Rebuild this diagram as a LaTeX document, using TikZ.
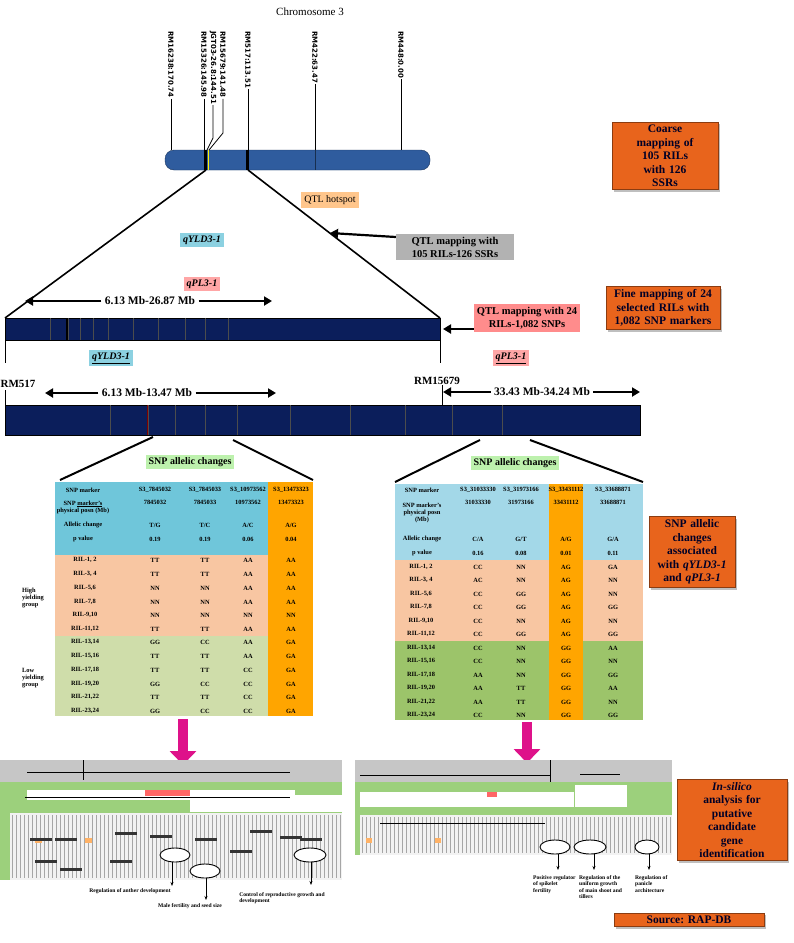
\documentclass[tikz,border=0pt]{standalone}
\usepackage{fontspec}
\setmainfont{Liberation Serif}
\setsansfont{DejaVu Sans}
\usetikzlibrary{shadows,arrows.meta}
\definecolor{obox}{HTML}{E8641C}
\definecolor{navy}{HTML}{0B1E5B}
\definecolor{chrom}{HTML}{2F5C9E}
\definecolor{tblue}{HTML}{6FC6DA}
\definecolor{tblueR}{HTML}{A3D8E8}
\definecolor{torange}{HTML}{FFA500}
\definecolor{tpeach}{HTML}{F8C6A2}
\definecolor{tgreen}{HTML}{CFDDAA}
\definecolor{tgreenR}{HTML}{9CC46A}
\definecolor{sgreen}{HTML}{9CD07C}
\begin{document}
\begin{tikzpicture}[x=1pt,y=-1pt,
  ob/.style={fill=obox,draw=obox!60!black,line width=1pt,drop shadow={opacity=0.5},font=\bfseries\fontsize{11.5}{13.5}\selectfont,text=black!85!blue,align=center,inner sep=3pt},
  lab/.style={font=\fontsize{10}{12}\selectfont,inner sep=3pt,align=center},
  big/.style={font=\bfseries\fontsize{11.5}{13}\selectfont},
  arr/.style={-{Triangle[length=8pt,width=9pt]},line width=2.2pt},
  mk/.style={rotate=-90,anchor=west,font=\sffamily\bfseries\fontsize{7}{8}\selectfont,inner sep=1pt},
  tc/.style={font=\bfseries\fontsize{6.4}{7}\selectfont,inner sep=0pt,align=center},
  zl/.style={line width=2pt},
  note/.style={font=\bfseries\fontsize{5.6}{6.6}\selectfont,align=left,inner sep=1pt},
]
\useasboundingbox (0,0) rectangle (793,943);
\fill[white] (0,0) rectangle (793,943);

% chromosome
\node[font=\fontsize{11}{13}\selectfont] (title) at (310,12) {Chromosome 3};
\draw[fill=chrom,draw=chrom!60!black,rounded corners=9pt] (165,150) rectangle (430,170);
\node (chr) at (297,160) {};
\fill[black] (204,150) rectangle (207,170);
\fill[yellow] (208,150) rectangle (209,170);
\fill[black] (246,150) rectangle (249,170);
\draw[chrom!50!black] (315,150) -- (315,170);
\foreach \x/\t/\n in {171/RM16238:170.74/a,204/RM15326:145.98/b,213/JGT03-26.8:144.51/c,223/RM15679:141.48/d,248/RM517:113.51/e,315/RM422:63.47/f,401/RM448:0.00/g}
  \node[mk] (m\n) at (\x,30) {\t};
\foreach \n/\x in {a/171,e/248,f/315,g/401}
  \draw[line width=0.8pt] (m\n.east) -- (\x,150);
\draw[line width=0.8pt] (mb.east) -- (204,150);
\draw[line width=0.8pt] (mc.east) -- (213,138) -- (207,150);
\draw[line width=0.8pt] (md.east) -- (223,133) -- (209,150);

% expansion lines
\coordinate (c1) at (206,170); \coordinate (c2) at (248,170);
\coordinate (b1l) at (5,318); \coordinate (b1r) at (440,318);
\draw[line width=1.6pt] (c1) -- (b1l);
\draw[line width=1.6pt] (c2) -- (b1r);

\node[lab,fill=orange!45!white] (hot) at (330,200) {QTL hotspot};
\node[lab,fill=tblue!80!white,font=\bfseries\itshape\fontsize{10}{12}\selectfont] (y1) at (202,240) {qYLD3-1};
\node[lab,fill=red!35!white,font=\bfseries\itshape\fontsize{10}{12}\selectfont] (p1) at (202,284) {qPL3-1};
\node[lab,fill=gray!60,font=\bfseries\fontsize{10.5}{13}\selectfont,minimum width=118pt] (qm1) at (455,247) {QTL mapping with\\105 RILs-126 SSRs};
\coordinate (qa1) at (330,233);
\draw[arr] (qm1.west|-0,237) -- (qa1);
\node[ob,text width=100pt] (coarse) at (665,156) {Coarse\\mapping of\\105 RILs\\with 126\\SSRs};

% bar 1
\node[big] (r1) at (150,301) {6.13 Mb-26.87 Mb};
\coordinate (r1a) at (25,301); \coordinate (r1b) at (272,301);
\draw[arr] (r1.west) -- (r1a); \draw[arr] (r1.east) -- (r1b);
\draw[fill=navy,draw=black,line width=1pt] (5,318) rectangle (440,340);
\node (bar1) at (222,329) {};
\foreach \x in {50,68,80,93,108,133,158,185,205,228} \draw[black!70] (\x,318) -- (\x,340);
\fill[black] (66,318) rectangle (68,340);
\node[lab,fill=red!45!white,font=\bfseries\fontsize{10.5}{13}\selectfont,minimum width=84pt] (qm2) at (527,318) {QTL mapping with 24\\RILs-1,082 SNPs};
\coordinate (qa2) at (443,329);
\draw[arr] (qm2.west|-0,329) -- (qa2);
\node[ob,text width=108pt] (fine) at (663,308) {Fine mapping of 24\\selected RILs with\\1,082 SNP markers};

\draw[line width=1pt] (5,340) -- (5,363);
\draw[line width=1pt] (440,340) -- (440,363);
\node[lab,fill=tblue!80!white,font=\bfseries\itshape\fontsize{10}{12}\selectfont] (y2) at (111,358) {\underline{qYLD3-1}};
\node[lab,fill=red!35!white,font=\bfseries\itshape\fontsize{10}{12}\selectfont] (p2) at (511,358) {\underline{qPL3-1}};
\node[font=\fontsize{11}{13}\selectfont\bfseries,inner sep=0pt] (rm517) at (18,384) {RM517};
\node[font=\fontsize{11}{13}\selectfont\bfseries,inner sep=0pt] (rm156) at (437,381) {RM15679};

\node[big] (r2) at (147,393) {6.13 Mb-13.47 Mb};
\coordinate (r2a) at (45,393); \coordinate (r2b) at (276,393);
\draw[arr] (r2.west) -- (r2a); \draw[arr] (r2.east) -- (r2b);
\node[big] (r3) at (542,392) {33.43 Mb-34.24 Mb};
\coordinate (r3a) at (443,392); \coordinate (r3b) at (640,392);
\draw[arr] (r3.west) -- (r3a); \draw[arr] (r3.east) -- (r3b);
\draw[line width=1pt] (5,390) -- (5,405);
\draw[line width=1pt] (442,385) -- (442,405);

% bar 2
\draw[fill=navy,draw=black,line width=1pt] (5,405) rectangle (640,435);
\node (bar2) at (322,420) {};
\foreach \x in {110,148,175,205,237,290,350,405,452,502} \draw[black!70] (\x,405) -- (\x,435);
\draw[red!50!black] (147,405) -- (147,435);

% zoom lines
\draw[zl] (153,437) -- (60,480);
\draw[zl] (233,440) -- (313,480);
\draw[zl] (480,440) -- (395,482);
\draw[zl] (530,440) -- (643,482);
\node[lab,fill=tgreen!70!green!60!white,draw=white,font=\bfseries\fontsize{10}{12}\selectfont] (sa1) at (190,462) {SNP allelic changes};
\node[lab,fill=tgreen!70!green!60!white,draw=white,font=\bfseries\fontsize{10}{12}\selectfont] (sa2) at (515,463) {SNP allelic changes};

% left table
\fill[tblue] (55,482) rectangle (313,555);
\fill[tpeach] (55,555) rectangle (313,636);
\fill[tgreen] (55,636) rectangle (313,716);
\fill[torange] (268,482) rectangle (313,716);
\node (tab1) at (184,600) {};
\node[tc] at (83,490) {SNP marker};
\node[tc] at (83,507) {SNP \underline{marker's}\\physical posn (Mb)};
\node[tc] at (83,525) {Allelic change};
\node[tc] at (83,539) {p value};
\foreach \x/\a/\b in {155/S3\_7845032/7845032,205/S3\_7845033/7845033,248/S3\_10973562/10973562,291/S3\_13473323/13473323}{
  \node[tc] at (\x,490) {\a};\node[tc] at (\x,502) {\b};}
\foreach \x/\c/\d in {155/T\slash G/0.19,205/T\slash C/0.19,248/A\slash C/0.06,291/A\slash G/0.04}{
  \node[tc] at (\x,525) {\c};\node[tc] at (\x,539) {\d};}
\node[tc,align=left] at (33,598) {High\\yielding\\group};
\node[tc,align=left] at (33,678) {Low\\yielding\\group};
\foreach \y/\r/\a/\b/\c/\d in {
 560/{RIL-1, 2}/TT/TT/AA/AA, 574/{RIL-3, 4}/TT/TT/AA/AA, 588/{RIL-5,6}/NN/NN/AA/AA,
 602/{RIL-7,8}/NN/NN/AA/AA, 615/{RIL-9,10}/NN/NN/NN/NN, 629/{RIL-11,12}/TT/TT/AA/AA,
 642/{RIL-13,14}/GG/CC/AA/GA, 656/{RIL-15,16}/TT/TT/AA/GA, 670/{RIL-17,18}/TT/TT/CC/GA,
 684/{RIL-19,20}/GG/CC/CC/GA, 697/{RIL-21,22}/TT/TT/CC/GA, 711/{RIL-23,24}/GG/CC/CC/GA}{
 \node[tc] at (85,\y) {\r};\node[tc] at (155,\y) {\a};\node[tc] at (205,\y) {\b};
 \node[tc] at (248,\y) {\c};\node[tc] at (291,\y) {\d};}

% right table
\fill[tblueR] (395,484) rectangle (643,560);
\fill[tpeach] (395,560) rectangle (643,641);
\fill[tgreenR] (395,641) rectangle (643,720);
\fill[torange] (549,484) rectangle (583,720);
\node (tab2) at (519,600) {};
\node[tc] at (422,490) {SNP marker};
\node[tc] at (422,513) {SNP marker's\\physical posn\\(Mb)};
\node[tc] at (422,539) {Allelic change};
\node[tc] at (422,553) {p value};
\foreach \x/\a/\b in {478/S3\_31033330/31033330,521/S3\_31973166/31973166,566/S3\_33431112/33431112,613/S3\_33688871/33688871}{
  \node[tc] at (\x,490) {\a};\node[tc] at (\x,502) {\b};}
\foreach \x/\c/\d in {478/C\slash A/0.16,521/G\slash T/0.08,566/A\slash G/0.01,613/G\slash A/0.11}{
  \node[tc] at (\x,539) {\c};\node[tc] at (\x,553) {\d};}
\foreach \y/\r/\a/\b/\c/\d in {
 567/{RIL-1, 2}/CC/NN/AG/GA, 580/{RIL-3, 4}/AC/NN/AG/NN, 594/{RIL-5,6}/CC/GG/AG/NN,
 607/{RIL-7,8}/CC/GG/AG/GG, 621/{RIL-9,10}/CC/NN/AG/NN, 634/{RIL-11,12}/CC/GG/AG/GG,
 648/{RIL-13,14}/CC/NN/GG/AA, 661/{RIL-15,16}/CC/NN/GG/NN, 675/{RIL-17,18}/AA/NN/GG/GG,
 688/{RIL-19,20}/AA/TT/GG/AA, 702/{RIL-21,22}/AA/TT/GG/NN, 715/{RIL-23,24}/CC/NN/GG/GG}{
 \node[tc] at (421,\y) {\r};\node[tc] at (478,\y) {\a};\node[tc] at (521,\y) {\b};
 \node[tc] at (566,\y) {\c};\node[tc] at (613,\y) {\d};}
\node[ob,text width=80pt] (snpbox) at (692,552) {SNP allelic\\changes\\associated\\with \textit{qYLD3-1}\\and \textit{qPL3-1}};

% magenta arrows
\coordinate (ma1) at (183,765); \coordinate (ma2) at (527,763);
\draw[-{Triangle[length=14pt,width=26pt]},line width=10pt,magenta!85!violet] (183,719) -- (ma1);
\draw[-{Triangle[length=14pt,width=26pt]},line width=10pt,magenta!85!violet] (527,722) -- (ma2);

% screenshot left
\fill[gray!45] (0,760) rectangle (342,782);
\fill[sgreen] (0,782) rectangle (342,880);
\fill[white] (27,790) rectangle (295,800);
\fill[red!60] (145,790) rectangle (190,796);
\fill[white] (190,795) rectangle (342,812);
\fill[white!90!gray] (10,813) rectangle (342,880);
\foreach \x in {12,16,...,340} \draw[gray!70,line width=0.4pt] (\x,815) -- (\x,878);
\draw[line width=0.6pt] (27,772) -- (290,772);
\draw[line width=0.6pt] (83,760) -- (83,780);
\draw[line width=0.6pt] (25,797) -- (290,797);
\fill[orange!60] (35,838) rectangle (42,843); \fill[orange!60] (85,838) rectangle (92,843);
\foreach \x/\y in {30/838,55/838,115/832,150/835,195/838,250/830,280/836,300/838,35/860,60/868,110/860,230/850}
  \fill[black!80] (\x,\y) rectangle ++(22,2.5);
\draw[line width=0.9pt,fill=white] (175,855) ellipse (15pt and 7pt);
\draw[line width=0.9pt,fill=white] (205,871) ellipse (15pt and 7pt);
\draw[line width=0.9pt,fill=white] (310,855) ellipse (16pt and 7pt);
\node[note] (n1) at (130,891) {Regulation of anther development};
\node[note] (n2) at (190,906) {Male fertility and seed size};
\node[note] (n3) at (282,898) {Control of reproductive growth and\\development};
\draw[-{Stealth[length=4pt]},line width=0.8pt] (172,862) -- (172,886);
\draw[-{Stealth[length=4pt]},line width=0.8pt] (206,878) -- (206,900);
\draw[-{Stealth[length=4pt]},line width=0.8pt] (311,862) -- (311,885);

% screenshot right
\fill[gray!45] (355,760) rectangle (672,782);
\fill[sgreen] (355,782) rectangle (672,855);
\fill[white] (360,792) rectangle (574,807);
\fill[white] (575,785) rectangle (627,807);
\fill[red!60] (487,792) rectangle (497,797);
\fill[white!90!gray] (360,815) rectangle (672,855);
\foreach \x in {362,366,...,670} \draw[gray!70,line width=0.4pt] (\x,817) -- (\x,853);
\draw[line width=0.6pt] (360,775) -- (550,775);
\draw[line width=0.6pt] (550,760) -- (550,782);
\draw[line width=0.6pt] (580,774) -- (620,774);
\draw[line width=0.6pt] (380,823) -- (545,823);
\fill[orange!60] (366,838) rectangle (372,843); \fill[orange!60] (435,838) rectangle (441,843);
\draw[line width=0.9pt,fill=white] (555,847) ellipse (15pt and 7pt);
\draw[line width=0.9pt,fill=white] (590,847) ellipse (16pt and 7pt);
\draw[line width=0.9pt,fill=white] (647,847) ellipse (12pt and 7pt);
\node[note,anchor=north west] (n4) at (532,874) {Positive regulator\\of spikelet\\fertility};
\node[note,anchor=north west] (n5) at (578,874) {Regulation of the\\uniform growth\\of main shoot and\\tillers};
\node[note,anchor=north west] (n6) at (634,874) {Regulation of\\panicle\\architecture};
\draw[-{Stealth[length=4pt]},line width=0.8pt] (558,854) -- (558,870);
\draw[-{Stealth[length=4pt]},line width=0.8pt] (594,854) -- (594,870);
\draw[-{Stealth[length=4pt]},line width=0.8pt] (649,854) -- (649,870);

\node[ob,text width=104pt] (insil) at (732,820) {\textit{In-silico}\\analysis for\\putative\\candidate\\gene\\identification};
\node[ob,minimum width=150pt,font=\bfseries\fontsize{11.5}{13}\selectfont] (src) at (689,920) {Source: RAP-DB};
\end{tikzpicture}
\end{document}
